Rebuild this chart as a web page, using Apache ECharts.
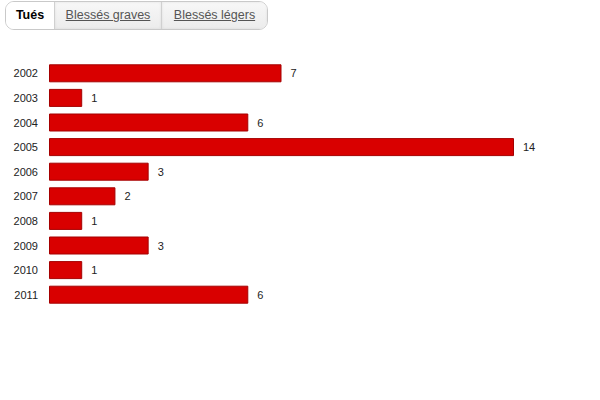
<!DOCTYPE html>
<html><head><meta charset="utf-8">
<script src="https://cdn.jsdelivr.net/npm/echarts@6/dist/echarts.min.js"></script>
<style>
html,body{margin:0;padding:0;background:#fff;width:600px;height:400px;overflow:hidden;font-family:"Liberation Sans",Arial,sans-serif;}
#tabs{position:absolute;left:5px;top:1px;height:27px;border:1px solid #c9c9c9;border-radius:9px;display:flex;overflow:hidden;box-sizing:content-box;}
.tab{height:27px;line-height:27px;font-size:12.5px;text-align:center;box-sizing:border-box;}
.tab.on{width:48px;font-weight:bold;color:#000;background:#fff;}
.tab.off{color:#555;text-decoration:underline;background:linear-gradient(#f7f7f7,#ececec);border-left:1px solid #d0d0d0;box-shadow:inset 0 0 3px rgba(0,0,0,0.08);}
#c{position:absolute;left:0;top:0;width:600px;height:400px;}
</style></head>
<body>
<div id="c"></div>
<div id="tabs">
<div class="tab on">Tués</div>
<div class="tab off" style="width:107px">Blessés graves</div>
<div class="tab off" style="width:106px">Blessés légers</div>
</div>
<script>
const years = ['2002','2003','2004','2005','2006','2007','2008','2009','2010','2011'];
const killed = [7,1,6,14,3,2,1,3,1,6];
const chart = echarts.init(document.getElementById('c'), null, {renderer:'svg'});
chart.setOption({
  animation:false,
  grid:{left:49,top:61,width:465,height:246},
  xAxis:{type:'value',min:0,max:14,show:false,splitLine:{show:false}},
  yAxis:{type:'category',data:years,inverse:true,
    axisLine:{show:false},axisTick:{show:false},
    axisLabel:{margin:11,fontSize:11,color:'#222',fontFamily:'Liberation Sans, Arial, sans-serif'}},
  series:[{type:'bar',data:killed,barWidth:18,
    itemStyle:{color:'#d90000',borderColor:'#a50000',borderWidth:1},
    label:{show:true,position:'right',distance:9,fontSize:11,color:'#222',fontFamily:'Liberation Sans, Arial, sans-serif'}}]
});
</script>
</body></html>
